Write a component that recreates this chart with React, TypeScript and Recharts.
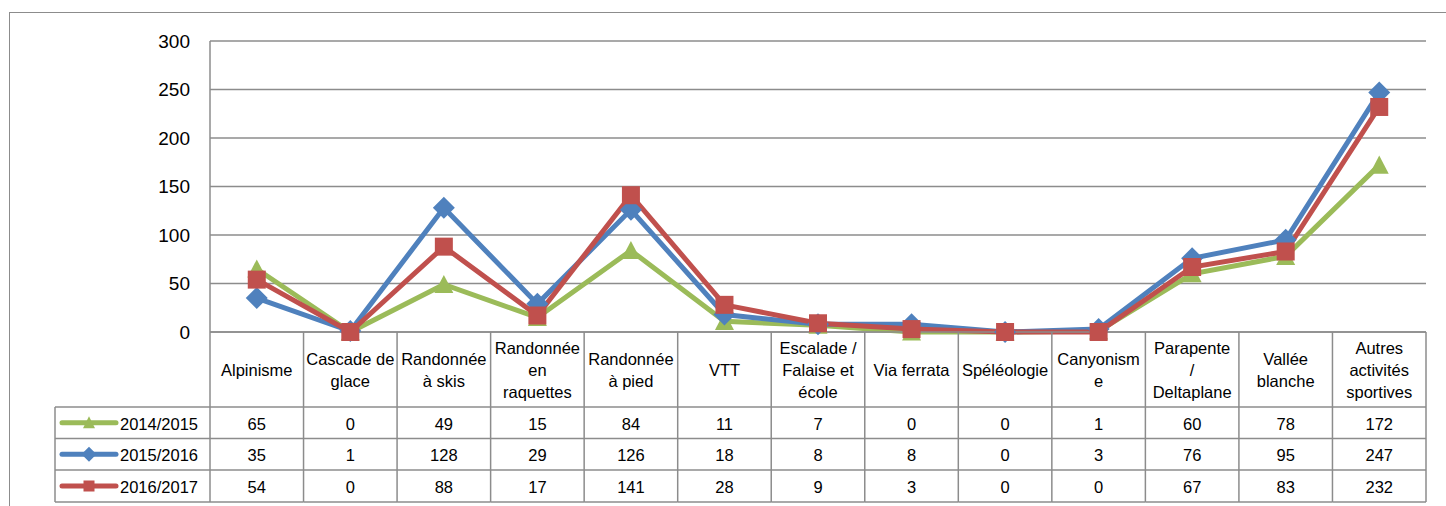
import React from "react";
import { LineChart, Line, XAxis, YAxis, CartesianGrid } from "recharts";

const categories = [
  "Alpinisme",
  "Cascade de glace",
  "Randonnée à skis",
  "Randonnée en raquettes",
  "Randonnée à pied",
  "VTT",
  "Escalade / Falaise et école",
  "Via ferrata",
  "Spéléologie",
  "Canyonisme",
  "Parapente / Deltaplane",
  "Vallée blanche",
  "Autres activités sportives",
];
// how Excel wrapped each category label in the data table
const headerLines = [
  ["Alpinisme"],
  ["Cascade de", "glace"],
  ["Randonnée", "à skis"],
  ["Randonnée", "en", "raquettes"],
  ["Randonnée", "à pied"],
  ["VTT"],
  ["Escalade /", "Falaise et", "école"],
  ["Via ferrata"],
  ["Spéléologie"],
  ["Canyonism", "e"],
  ["Parapente", "/", "Deltaplane"],
  ["Vallée", "blanche"],
  ["Autres", "activités", "sportives"],
];
const seasons = ["2014/2015", "2015/2016", "2016/2017"];
const values1415 = [65, 0, 49, 15, 84, 11, 7, 0, 0, 1, 60, 78, 172];
const values1516 = [35, 1, 128, 29, 126, 18, 8, 8, 0, 3, 76, 95, 247];
const values1617 = [54, 0, 88, 17, 141, 28, 9, 3, 0, 0, 67, 83, 232];
const yTicks = [0, 50, 100, 150, 200, 250, 300];

const GREEN = "#9BBB59";
const BLUE = "#4F81BD";
const RED = "#C0504D";
const GRID = "#8c8c8c";
const FONT = "'Liberation Sans', Arial, sans-serif";

const W = 1446;
const H = 506;
const PLOT_LEFT = 210;
const PLOT_RIGHT = 1426;
const PLOT_BOTTOM = 332;
const HEADER_BOTTOM = 407;
const ROW_BOTTOMS = [438.5, 470, 502];
const LEGEND_LEFT = 55;
const COL_W = (PLOT_RIGHT - PLOT_LEFT) / categories.length;

const data = categories.map((cat, i) => ({
  cat,
  s1415: values1415[i],
  s1516: values1516[i],
  s1617: values1617[i],
}));

const rowValues = [values1415, values1516, values1617];
const rowColors = [GREEN, BLUE, RED];

function Triangle({ cx, cy, size, color }: { cx: number; cy: number; size: number; color: string }) {
  const h = size * 0.9;
  return (
    <polygon
      points={`${cx},${cy - h / 2 - 1} ${cx - size / 2},${cy + h / 2} ${cx + size / 2},${cy + h / 2}`}
      fill={color}
    />
  );
}

function Diamond({ cx, cy, size, color }: { cx: number; cy: number; size: number; color: string }) {
  const r = size / 2;
  return <polygon points={`${cx},${cy - r} ${cx + r},${cy} ${cx},${cy + r} ${cx - r},${cy}`} fill={color} />;
}

function Square({ cx, cy, size, color }: { cx: number; cy: number; size: number; color: string }) {
  return <rect x={cx - size / 2} y={cy - size / 2} width={size} height={size} fill={color} />;
}

const markers = [
  (cx: number, cy: number, s: number) => <Triangle cx={cx} cy={cy} size={s} color={GREEN} />,
  (cx: number, cy: number, s: number) => <Diamond cx={cx} cy={cy} size={s + 3} color={BLUE} />,
  (cx: number, cy: number, s: number) => <Square cx={cx} cy={cy} size={s - 1} color={RED} />,
];

function TableTick(props: any) {
  const { x, payload } = props;
  const i = payload.index;
  const half = COL_W / 2;
  const left = x - half;
  const right = x + half;
  const lines = headerLines[i];
  const headerMid = (PLOT_BOTTOM + HEADER_BOTTOM) / 2;
  const rowTops = [HEADER_BOTTOM, ROW_BOTTOMS[0], ROW_BOTTOMS[1]];
  const textStyle = { fontFamily: FONT, fontSize: 16.5, fill: "#000" };

  return (
    <g>
      <line x1={right} y1={PLOT_BOTTOM} x2={right} y2={ROW_BOTTOMS[2]} stroke={GRID} strokeWidth={1.5} />
      {i === 0 && <line x1={left} y1={PLOT_BOTTOM} x2={left} y2={ROW_BOTTOMS[2]} stroke={GRID} strokeWidth={1.5} />}
      {[HEADER_BOTTOM, ...ROW_BOTTOMS].map((y) => (
        <line key={y} x1={left} y1={y} x2={right} y2={y} stroke={GRID} strokeWidth={1.5} />
      ))}
      {lines.map((t, k) => (
        <text
          key={k}
          x={x}
          y={headerMid + (k - (lines.length - 1) / 2) * 22}
          textAnchor="middle"
          dominantBaseline="central"
          style={textStyle}
        >
          {t}
        </text>
      ))}
      {rowValues.map((vals, r) => (
        <text
          key={r}
          x={x}
          y={(rowTops[r] + ROW_BOTTOMS[r]) / 2 + 1}
          textAnchor="middle"
          dominantBaseline="central"
          style={textStyle}
        >
          {vals[i]}
        </text>
      ))}
      {i === 0 && (
        <g>
          <line x1={LEGEND_LEFT} y1={HEADER_BOTTOM} x2={LEGEND_LEFT} y2={ROW_BOTTOMS[2]} stroke={GRID} strokeWidth={1.5} />
          {[HEADER_BOTTOM, ...ROW_BOTTOMS].map((y) => (
            <line key={y} x1={LEGEND_LEFT} y1={y} x2={left} y2={y} stroke={GRID} strokeWidth={1.5} />
          ))}
          {seasons.map((s, r) => {
            const cy = (rowTops[r] + ROW_BOTTOMS[r]) / 2;
            return (
              <g key={s}>
                <line x1={62} y1={cy} x2={116} y2={cy} stroke={rowColors[r]} strokeWidth={5} strokeLinecap="round" />
                {markers[r](89, cy, 12)}
                <text x={120} y={cy + 1} dominantBaseline="central" style={textStyle}>
                  {s}
                </text>
              </g>
            );
          })}
        </g>
      )}
    </g>
  );
}

const makeDot = (r: number) => (p: any) => <g key={`dot-${r}-${p.index}`}>{markers[r](p.cx, p.cy, 19)}</g>;

export default function App() {
  return (
    <div
      style={{
        position: "absolute",
        left: 0,
        top: 0,
        width: W,
        height: H,
        overflow: "hidden",
        background: "#fff",
        fontFamily: FONT,
      }}
    >
      <div
        style={{
          position: "absolute",
          left: 9,
          top: 12,
          width: W + 50,
          height: H + 50,
          border: `1px solid ${GRID}`,
          boxSizing: "border-box",
        }}
      />
      <div style={{ position: "absolute", left: 0, top: 0 }}>
        <LineChart width={W} height={H} data={data} margin={{ top: 41, right: W - PLOT_RIGHT, bottom: 4, left: 150 }}>
          <CartesianGrid vertical={false} stroke={GRID} strokeWidth={1.5} />
          <XAxis
            dataKey="cat"
            scale="band"
            interval={0}
            height={170}
            tickLine={false}
            tickSize={0}
            axisLine={{ stroke: GRID, strokeWidth: 1.5 }}
            tick={<TableTick />}
          />
          <YAxis
            width={60}
            domain={[0, 300]}
            ticks={yTicks}
            tickLine={false}
            tickSize={0}
            tickMargin={20}
            axisLine={{ stroke: GRID, strokeWidth: 1.5 }}
            tick={{ fontSize: 19, fill: "#000", fontFamily: FONT }}
          />
          <Line
            dataKey="s1415"
            name={seasons[0]}
            stroke={GREEN}
            strokeWidth={5}
            dot={makeDot(0)}
            activeDot={false}
            isAnimationActive={false}
          />
          <Line
            dataKey="s1516"
            name={seasons[1]}
            stroke={BLUE}
            strokeWidth={5}
            dot={makeDot(1)}
            activeDot={false}
            isAnimationActive={false}
          />
          <Line
            dataKey="s1617"
            name={seasons[2]}
            stroke={RED}
            strokeWidth={5}
            dot={makeDot(2)}
            activeDot={false}
            isAnimationActive={false}
          />
        </LineChart>
      </div>
    </div>
  );
}
